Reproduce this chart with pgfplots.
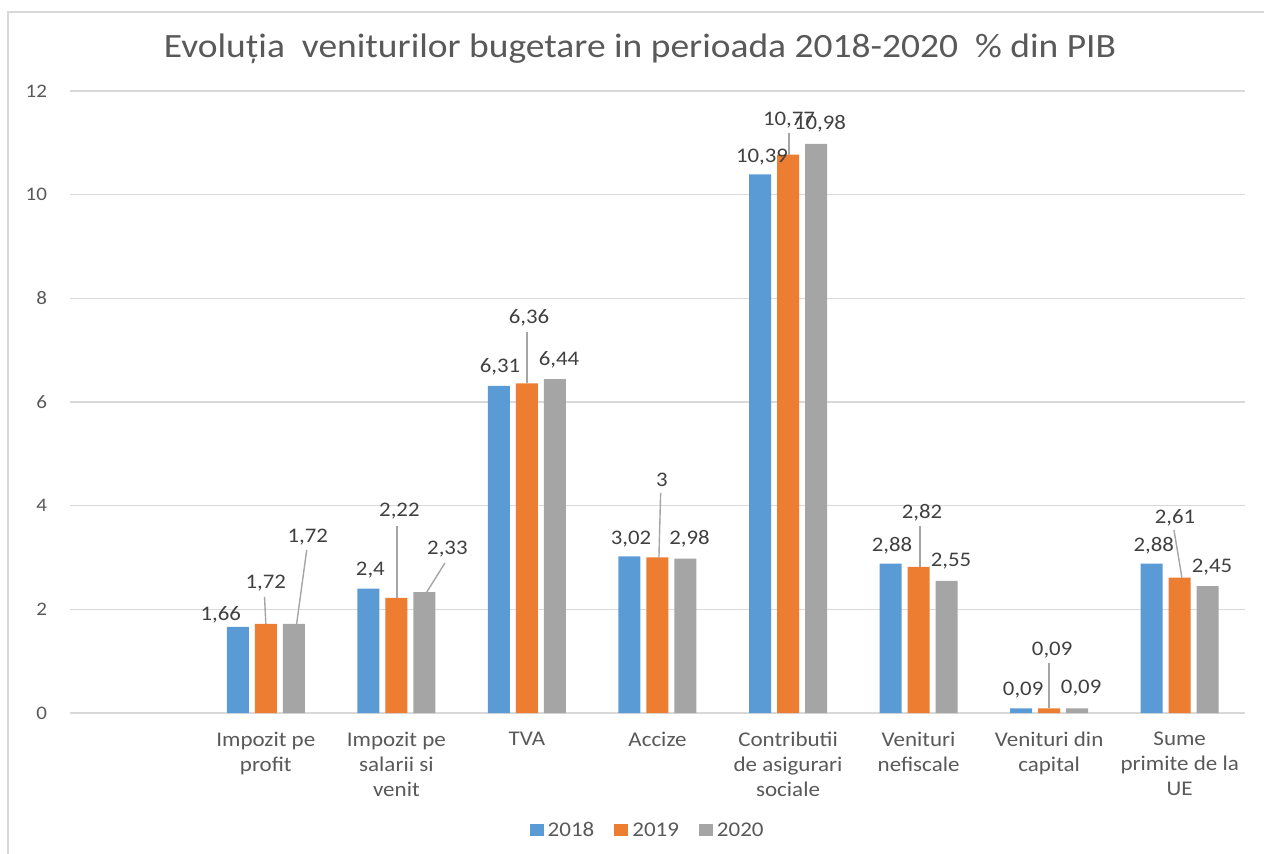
\documentclass[border=0pt]{standalone}
\usepackage{pgfplots}
\pgfplotsset{compat=1.18}
\usepackage{pgfplotstable}
\usepackage{fontspec}
\setmainfont{Carlito}[FakeStretch=1.1]
\definecolor{cA}{HTML}{5B9BD5}
\definecolor{cB}{HTML}{ED7D31}
\definecolor{cC}{HTML}{A5A5A5}
\definecolor{txt}{HTML}{595959}
\definecolor{lbl}{HTML}{404040}
\definecolor{grd}{HTML}{D9D9D9}

% dx, dy: label offset (bp) from the category centre / bar top
\pgfplotstableread{
x y lbl dx dy
1 1.66 1,66 -22.5 6
2 2.4 2,4 -13 9
3 6.31 6,31 -13.5 9.5
4 3.02 3,02 -13.25 8.75
5 10.39 10,39 -13 8.75
6 2.88 2,88 -13.25 8.85
7 0.09 0,09 -13 9
8 2.88 2,88 -13 9
}\dataA
\pgfplotstableread{
x y lbl dx dy
1 1.72 1,72 0 20.5
2 2.22 2,22 1.5 43.5
3 6.36 6,36 1 33
4 3 3 2.25 39
5 10.77 10,77 0.5 17.5
6 2.82 2,82 1.7 27
7 0.09 0,09 1.5 29
8 2.61 2,61 -2.35 30
}\dataB
\pgfplotstableread{
x y lbl dx dy
1 1.72 1,72 21 43.5
2 2.33 2,33 25.5 21.5
3 6.44 6,44 16 9.5
4 2.98 2,98 16 9.75
5 10.98 10,98 16 10
6 2.55 2,55 16.2 10
7 0.09 0,09 16 10
8 2.45 2,45 16.15 9.5
}\dataC

\pgfplotsset{
  lblstyle/.style={
    point meta=explicit symbolic,
    nodes near coords,
    visualization depends on={\thisrow{dx} \as \dx},
    visualization depends on={\thisrow{dy} \as \dy},
    nodes near coords style={anchor=center, inner sep=0pt, text=lbl,
      font=\fontsize{10.4}{12}\selectfont,
      xshift=\dx*1bp, yshift=\dy*1bp},
  },
}

\begin{document}
\begin{tikzpicture}
\path[use as bounding box] (0,0) rectangle (632bp,427bp);
\draw[grd, line width=0.75bp] (4bp,0) -- (4bp,421bp) -- (632bp,421bp);
\node[text=txt, font=\fontsize{17.1}{20}\selectfont] at (320bp,402.5bp)
  {Evoluția\ \ veniturilor bugetare in perioada 2018-2020\ \ \% din PIB};
\begin{axis}[
  at={(35bp,70.5bp)}, anchor=south west,
  scale only axis, width=587.5bp, height=311bp,
  xmin=-0.5, xmax=8.5, ymin=0, ymax=12,
  xtick={1,2,3,4,5,6,7,8},
  xticklabels={{Impozit pe\\profit},{Impozit pe\\salarii si\\venit},{TVA},{Accize},{Contributii\\de asigurari\\sociale},{Venituri\\nefiscale},{Venituri din\\capital},{Sume\\primite de la\\UE}},
  ytick={0,2,4,6,8,10,12},
  axis x line*=bottom, axis y line*=left,
  axis line style={-},
  x axis line style={grd, line width=0.75bp},
  y axis line style={draw=none},
  major tick length=0pt,
  ymajorgrids, major grid style={grd, line width=0.75bp},
  xticklabel style={align=center, text=txt, anchor=north, yshift=-6bp,
    font=\fontsize{10.5}{12.5}\selectfont},
  yticklabel style={text=txt, anchor=east, xshift=-8bp,
    font=\fontsize{9.6}{11}\selectfont},
  /pgf/number format/assume math mode=true,
  clip=false,
  legend style={at={(0.4925,-0.19)}, anchor=center, draw=none,
    legend columns=3, text=txt, font=\fontsize{10.5}{12}\selectfont,
    /tikz/every even column/.append style={column sep=8bp}},
  legend image code/.code={\fill[#1] (0bp,-2.6bp) rectangle (7bp,3.4bp);},
]
\addplot[ybar, bar width=11bp, bar shift=-14bp, fill=cA, draw=none, lblstyle] table[x=x, y=y, meta=lbl] {\dataA};
\addlegendentry{2018}
\addplot[ybar, bar width=11bp, bar shift=0bp, fill=cB, draw=none, lblstyle] table[x=x, y=y, meta=lbl] {\dataB};
\addlegendentry{2019}
\addplot[ybar, bar width=11bp, bar shift=14bp, fill=cC, draw=none, lblstyle] table[x=x, y=y, meta=lbl] {\dataC};
\addlegendentry{2020}
% leader lines
\addplot[cC, line width=0.7bp, forget plot] coordinates {(1.0,1.72) (0.99,2.24)};
\addplot[cC, line width=0.7bp, forget plot] coordinates {(1.236,1.72) (1.313,3.145)};
\addplot[cC, line width=0.7bp, forget plot] coordinates {(2.005,2.22) (2.005,3.608)};
\addplot[cC, line width=0.7bp, forget plot] coordinates {(2.232,2.33) (2.372,2.894)};
\addplot[cC, line width=0.7bp, forget plot] coordinates {(3.0,6.36) (3.0,7.357)};
\addplot[cC, line width=0.7bp, forget plot] coordinates {(4.011,3.0) (4.024,4.245)};
\addplot[cC, line width=0.7bp, forget plot] coordinates {(5.007,10.77) (5.007,11.19)};
\addplot[cC, line width=0.7bp, forget plot] coordinates {(6.01,2.82) (6.01,3.608)};
\addplot[cC, line width=0.7bp, forget plot] coordinates {(7.0,0.09) (7.0,0.965)};
\addplot[cC, line width=0.7bp, forget plot] coordinates {(8.017,2.61) (7.956,3.531)};
\end{axis}
\end{tikzpicture}
\end{document}
